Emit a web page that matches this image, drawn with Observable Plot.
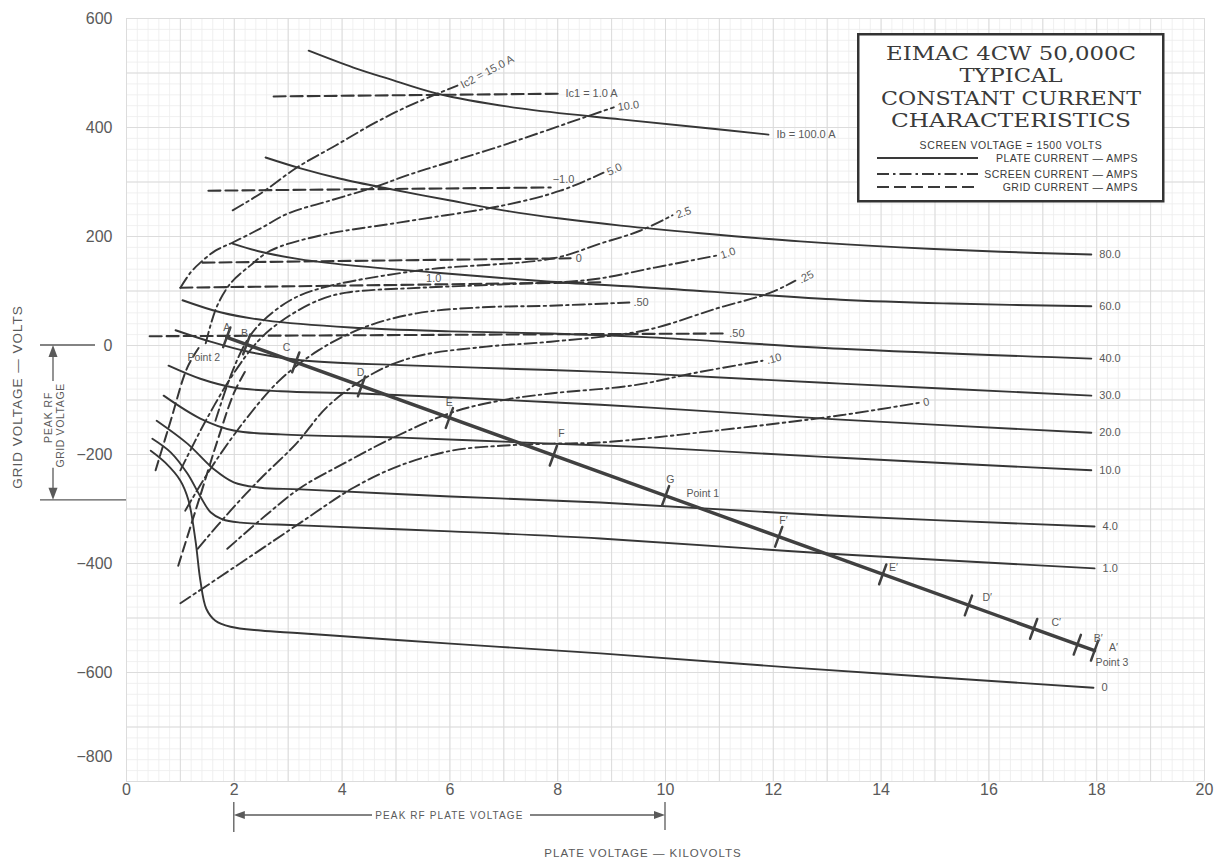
<!DOCTYPE html>
<html>
<head>
<meta charset="utf-8">
<script src="https://cdn.jsdelivr.net/npm/d3@7"></script>
<script src="https://cdn.jsdelivr.net/npm/@observablehq/plot@0.6"></script>
<style>
html,body{margin:0;padding:0;background:#fff;}
#wrap{position:relative;width:1216px;height:860px;overflow:hidden;font-family:"Liberation Sans",Arial,sans-serif;}
#legend{position:absolute;left:857px;top:33px;}
</style>
</head>
<body>
<div id="wrap"></div>
<script>
// ---------- axis ticks ----------
const xTicks = [0, 2, 4, 6, 8, 10, 12, 14, 16, 18, 20];
const yTicks = [600, 400, 200, 0, -200, -400, -600, -800];

// ---------- plate current (solid) : [plate kV, grid V] ----------
const ib100 = [[3.38,541],[4.21,510],[4.84,490],[5.77,462],[7.31,435],[9.17,415],[10.65,400],[11.91,387]];
const ib80  = [[2.58,345],[3.23,325],[3.97,306],[4.84,288],[6.01,266],[6.99,248],[8.05,233],[9.17,220],[10.65,206],[12.50,191],[14.36,180],[16.22,172],[17.90,167]];
const ib60  = [[1.97,187],[2.49,172],[3.23,158],[4.16,147],[5.70,134],[7.87,117],[9.72,106],[13.25,84],[15.29,77],[17.90,72]];
const ib40  = [[1.04,83],[1.74,61],[2.58,46],[4.16,33],[6.01,26],[7.87,22],[9.72,15],[13.25,-6],[17.90,-24]];
const ib30  = [[0.91,28],[1.56,7],[2.24,-11],[3.23,-27],[5.08,-36],[7.87,-45],[9.72,-52],[13.25,-70],[17.90,-92]];
const ib20  = [[0.78,-37],[1.37,-61],[1.99,-77],[2.86,-84],[4.34,-88],[7.87,-104],[9.72,-114],[13.25,-136],[17.90,-160]];
const ib10  = [[0.69,-92],[1.37,-134],[1.99,-156],[2.86,-163],[5.08,-169],[7.87,-180],[9.72,-187],[13.25,-206],[17.90,-229]];
const ib4   = [[0.56,-138],[1.13,-180],[1.61,-226],[1.99,-251],[2.49,-261],[3.23,-264],[6.01,-277],[8.79,-288],[13.06,-312],[17.96,-332]];
const ib1   = [[0.48,-171],[0.82,-196],[1.13,-235],[1.37,-277],[1.56,-306],[1.78,-319],[2.12,-325],[3.23,-330],[6.01,-341],[8.79,-354],[13.06,-382],[17.96,-409]];
const ib0   = [[0.45,-193],[0.72,-215],[1.00,-248],[1.15,-284],[1.28,-358],[1.37,-431],[1.48,-483],[1.65,-505],[1.93,-516],[2.49,-523],[3.23,-528],[6.01,-547],[8.79,-565],[12.36,-591],[17.94,-628]];
const plateNames = ["Ib = 100.0 A","80.0","60.0","40.0","30.0","20.0","10.0","4.0","1.0","0"];

// ---------- screen current (dash-dot) ----------
const sc150 = [[1.97,248],[2.49,279],[3.17,327],[3.88,367],[4.58,407],[5.18,437],[5.77,462],[6.14,477]];
const sc100 = [[1.00,106],[1.19,134],[1.37,152],[1.65,174],[1.97,189],[2.49,215],[2.99,242],[3.78,266],[4.58,290],[5.32,316],[6.07,339],[6.85,363],[7.63,389],[8.33,413],[9.04,437]];
const sc50  = [[1.47,4],[1.67,70],[1.93,114],[2.30,147],[2.67,174],[3.60,202],[5.08,226],[6.99,257],[8.05,284],[8.85,317]];
const sc25  = [[1.65,-138],[1.97,-46],[2.26,13],[2.54,46],[3.04,83],[3.60,105],[5.45,138],[7.92,160],[8.79,187],[9.54,211],[10.13,239]];
const sc10  = [[1.00,-229],[1.47,-138],[1.99,-51],[2.45,9],[2.89,46],[3.56,83],[4.08,97],[5.45,106],[6.94,112],[8.63,121],[9.80,143],[10.95,165]];
const sc050 = [[1.09,-303],[1.56,-226],[2.24,-132],[2.84,-64],[3.56,-9],[4.40,33],[5.38,59],[6.57,70],[7.87,73],[9.33,79]];
const sc025 = [[1.32,-373],[1.93,-303],[2.49,-244],[3.15,-180],[3.75,-110],[4.60,-50],[5.38,-20],[6.68,-2],[7.87,7],[9.63,28],[10.95,68],[11.95,97],[12.41,119]];
const sc010 = [[1.87,-373],[2.58,-312],[3.23,-261],[4.06,-215],[4.91,-171],[6.03,-123],[6.94,-101],[7.87,-88],[9.41,-73],[10.56,-50],[11.80,-28]];
const sc000 = [[1.00,-473],[2.24,-391],[3.23,-325],[4.21,-261],[5.08,-220],[6.03,-193],[6.94,-184],[7.92,-180],[8.79,-178],[10.95,-156],[13.25,-128],[14.71,-105]];
const screenNames = ["Ic2 = 15.0 A","10.0","5.0","2.5","1.0",".50",".25",".10","0"];

// ---------- grid current (dashed) ----------
const gcTop = [[2.73,457],[8.05,462]];
const gcM1  = [[1.52,284],[7.87,290]];
const gc0   = [[1.41,152],[8.24,160]];
const gc1   = [[1.00,106],[8.79,116]];
const gc050 = [[0.43,17],[11.09,22]];
const gcLowA = [[0.54,-229],[0.82,-138],[1.13,-40],[1.37,0]];
const gcLowB = [[0.96,-404],[1.37,-275],[1.69,-174],[1.99,-88],[2.21,-46]];
const gridNames = ["Ic1 = 1.0 A","\u22121.0","0","",".50"];
const gridMidLabels = [{x:5.70, y:123, t:"1.0"}];

// ---------- load line and its marked points ----------
const loadLine = [[1.86,15],[17.96,-560]];
const tickNames = ["A","B","C","D","E","F","G","F\u2032","E\u2032","D\u2032","C\u2032","B\u2032","A\u2032"];
const tickX = [1.86,2.23,3.14,4.36,5.99,7.92,10.00,12.10,14.03,15.62,16.83,17.64,17.96];
const tickV = [15,2,-31,-75,-133,-202,-276,-351,-420,-477,-520,-549,-560];
const letterX = [1.86,2.19,2.97,4.34,5.99,8.07,10.09,12.19,14.23,15.97,17.25,18.03,18.31];
const letterV = [33,22,-4,-50,-105,-161,-246,-321,-407,-462,-508,-538,-554];
const pointNames = ["Point 1","Point 2","Point 3"];
const pointX = [10.39, 1.13, 17.98];
const pointV = [-272, -22, -582];

// ---------- peak RF ranges ----------
const peakPlate = [2, 10];
const peakGrid = [0, -284];

// ---------- build tables ----------
const rows = (curves) => curves.flatMap((c, k) => c.map(([x, y]) => ({x, y, k})));
const ends = (curves, names) => curves.map((c, i) => ({x: c[c.length-1][0], y: c[c.length-1][1], t: names[i]}));
const plateCurves = [ib100, ib80, ib60, ib40, ib30, ib20, ib10, ib4, ib1, ib0];
const screenCurves = [sc150, sc100, sc50, sc25, sc10, sc050, sc025, sc010, sc000];
const gridCurves = [gcTop, gcM1, gc0, gc1, gc050];
const gridLow = [gcLowA, gcLowB];
const ticks = tickNames.map((t, i) => ({t, x: tickX[i], y: tickV[i]}));
const letters = tickNames.map((t, i) => ({t, x: letterX[i], y: letterV[i]}));
const points = pointNames.map((t, i) => ({t, x: pointX[i], y: pointV[i]}));
const gridEnds = ends(gridCurves, gridNames);

const INK = "#363636";
const TXT = "#5a5a5a";
const minorX = d3.range(0, 101).map(i => i * 0.2);
const minorY = d3.range(0, 71).map(i => -800 + i * 20);
const majorX = d3.range(0, 21);
const majorY = d3.range(-800, 601, 100);

const screenRot = [-28, -8, -25, -20, -18, 0, -28, -15, -12];
const tickShape = {draw(ctx, l) { ctx.moveTo(0, 0); ctx.lineTo(0, -l); }};

const plot = Plot.plot({
  width: 1216, height: 860,
  marginLeft: 126, marginRight: 12, marginTop: 18, marginBottom: 79,
  x: {domain: [0, 20]},
  y: {domain: [-800, 600]},
  style: {fontFamily: "Liberation Sans, Arial, sans-serif", color: TXT, background: "#fff"},
  marks: [
    Plot.ruleX(minorX, {stroke: "#ececec", strokeWidth: 0.8}),
    Plot.ruleY(minorY, {stroke: "#ececec", strokeWidth: 0.8}),
    Plot.ruleX(majorX, {stroke: "#d9d9d9", strokeWidth: 0.9}),
    Plot.ruleY(majorY, {stroke: "#d9d9d9", strokeWidth: 0.9}),
    Plot.axisX(xTicks, {tickSize: 0, tickPadding: 2, fontSize: 16, label: null}),
    Plot.axisY(yTicks.filter(d => d !== -800), {tickSize: 0, tickPadding: 14, fontSize: 16, label: null}),
    Plot.axisY([-800], {tickSize: 0, tickPadding: 14, fontSize: 16, dy: -25, label: null}),
    Plot.line(rows(gridCurves), {x: "x", y: "y", z: "k", stroke: INK, strokeWidth: 2.1, strokeDasharray: "12,5"}),
    Plot.line(rows(gridLow), {x: "x", y: "y", z: "k", stroke: INK, strokeWidth: 2, strokeDasharray: "10,5", curve: "catmull-rom"}),
    Plot.line(rows(screenCurves), {x: "x", y: "y", z: "k", stroke: INK, strokeWidth: 1.9, strokeDasharray: "12,4,2.5,4", curve: "catmull-rom"}),
    Plot.line(rows(plateCurves), {x: "x", y: "y", z: "k", stroke: INK, strokeWidth: 1.9, curve: "catmull-rom"}),
    Plot.line(loadLine, {x: d => d[0], y: d => d[1], stroke: "#404040", strokeWidth: 3.4}),
    Plot.vector(ticks, {x: "x", y: "y", length: 21, rotate: 20, anchor: "middle", shape: tickShape, stroke: "#404040", strokeWidth: 2.5}),
    Plot.text(ends(plateCurves, plateNames), {x: "x", y: "y", text: "t", textAnchor: "start", dx: 8, fontSize: 11, fill: TXT}),
    Plot.text(ends(screenCurves, screenNames), {x: "x", y: "y", text: "t", textAnchor: "start", dx: 4, fontSize: 11, fill: TXT,
      rotate: (d, i) => screenRot[i]}),
    Plot.text(gridEnds.filter((d, i) => i !== 1), {x: "x", y: "y", text: "t", textAnchor: "start", dx: 5, fontSize: 11, fill: TXT}),
    Plot.text(gridEnds.filter((d, i) => i === 1), {x: "x", y: "y", text: "t", textAnchor: "start", dx: 2, dy: -8, fontSize: 11, fill: TXT}),
    Plot.text(gridMidLabels, {x: "x", y: "y", text: "t", fontSize: 11, fill: TXT}),
    Plot.text(letters, {x: "x", y: "y", text: "t", fontSize: 10.5, fill: TXT}),
    Plot.text(points, {x: "x", y: "y", text: "t", textAnchor: "start", fontSize: 10.5, fill: TXT})
  ]
});
document.getElementById("wrap").appendChild(plot);

const svg = d3.select(plot);
const X = v => plot.scale("x").apply(v);
const Y = v => plot.scale("y").apply(v);

// ---------- annotations outside the frame ----------
const ann = svg.append("g").attr("stroke", TXT).attr("stroke-width", 1.3).attr("fill", "none");
const yTop = Y(peakGrid[0]), yBot = Y(peakGrid[1]);
ann.append("line").attr("x1", 40).attr("x2", 95).attr("y1", yTop).attr("y2", yTop);
ann.append("line").attr("x1", 40).attr("x2", X(0)).attr("y1", yBot).attr("y2", yBot);
ann.append("line").attr("x1", 53).attr("x2", 53).attr("y1", yTop + 4).attr("y2", yTop + 36);
ann.append("line").attr("x1", 53).attr("x2", 53).attr("y1", yBot - 32).attr("y2", yBot - 4);
svg.append("path").attr("d", `M53,${yTop} l-4.5,12 h9 z`).attr("fill", TXT);
svg.append("path").attr("d", `M53,${yBot} l-4.5,-12 h9 z`).attr("fill", TXT);
const midG = (yTop + yBot) / 2;
svg.append("text").attr("transform", `translate(48,${midG - 5}) rotate(-90)`).attr("dy", "0.35em")
  .attr("text-anchor", "middle").attr("font-size", 10.5).attr("letter-spacing", 0.9).attr("fill", TXT).text("PEAK RF");
svg.append("text").attr("transform", `translate(60,${midG + 3}) rotate(-90)`).attr("dy", "0.35em")
  .attr("text-anchor", "middle").attr("font-size", 10.5).attr("letter-spacing", 0.6).attr("fill", TXT).text("GRID VOLTAGE");
svg.append("text").attr("transform", `translate(17,397) rotate(-90)`).attr("dy", "0.35em")
  .attr("text-anchor", "middle").attr("font-size", 13.5).attr("letter-spacing", 1).attr("fill", TXT).text("GRID VOLTAGE \u2014 VOLTS");

const xL = X(peakPlate[0]), xR = X(peakPlate[1]);
const yA = 815;
ann.append("line").attr("x1", xL).attr("x2", xL).attr("y1", 802).attr("y2", 832);
ann.append("line").attr("x1", xR).attr("x2", xR).attr("y1", 802).attr("y2", 830);
ann.append("line").attr("x1", xL + 4).attr("x2", 372).attr("y1", yA).attr("y2", yA);
ann.append("line").attr("x1", 530).attr("x2", xR - 4).attr("y1", yA).attr("y2", yA);
svg.append("path").attr("d", `M${xL},${yA} l11,-4 v8 z`).attr("fill", TXT);
svg.append("path").attr("d", `M${xR},${yA} l-11,-4 v8 z`).attr("fill", TXT);
svg.append("text").attr("x", (xL + xR) / 2).attr("y", yA).attr("dy", "0.35em").attr("text-anchor", "middle")
  .attr("font-size", 10).attr("letter-spacing", 1.1).attr("fill", TXT).text("PEAK RF PLATE VOLTAGE");
svg.append("text").attr("x", 643).attr("y", 853).attr("dy", "0.35em").attr("text-anchor", "middle")
  .attr("font-size", 11.5).attr("letter-spacing", 1).attr("fill", TXT).text("PLATE VOLTAGE \u2014 KILOVOLTS");

// ---------- legend box ----------
const titleLines = ["EIMAC 4CW 50,000C", "TYPICAL", "CONSTANT CURRENT", "CHARACTERISTICS"];
const titleWidths = [250, 103, 260, 240];
const legendRows = ["PLATE CURRENT \u2014 AMPS", "SCREEN CURRENT \u2014 AMPS", "GRID CURRENT \u2014 AMPS"];
const legendDash = [null, "12,4,2.5,4", "12,5"];
const leg = d3.select("#wrap").append("svg").attr("id", "legend").attr("width", 310).attr("height", 172);
leg.append("rect").attr("x", 1.25).attr("y", 1.25).attr("width", 305).attr("height", 167)
  .attr("fill", "#fff").attr("stroke", "#333").attr("stroke-width", 2.5);
titleLines.forEach((t, i) => {
  leg.append("text").attr("x", 154).attr("y", 27 + i * 22.3).attr("text-anchor", "middle")
    .attr("font-family", "DejaVu Serif, serif").attr("font-size", 19)
    .attr("textLength", titleWidths[i]).attr("lengthAdjust", "spacingAndGlyphs")
    .attr("fill", "#3a3a3a").text(t);
});
leg.append("text").attr("x", 154).attr("y", 116).attr("text-anchor", "middle")
  .attr("font-family", "Liberation Sans, Arial, sans-serif").attr("font-size", 10.5).attr("letter-spacing", 0.6).attr("fill", "#3a3a3a")
  .text("SCREEN VOLTAGE = 1500 VOLTS");
legendRows.forEach((t, i) => {
  const cy = [125, 141, 154][i];
  const ln = leg.append("line").attr("x1", 20).attr("x2", 121).attr("y1", cy).attr("y2", cy)
    .attr("stroke", "#3a3a3a").attr("stroke-width", 2);
  if (legendDash[i]) ln.attr("stroke-dasharray", legendDash[i]);
  leg.append("text").attr("x", 281).attr("y", cy).attr("dy", "0.35em").attr("text-anchor", "end")
    .attr("font-family", "Liberation Sans, Arial, sans-serif").attr("font-size", 10.5).attr("letter-spacing", 0.5).attr("fill", "#3a3a3a").text(t);
});
</script>
</body>
</html>
